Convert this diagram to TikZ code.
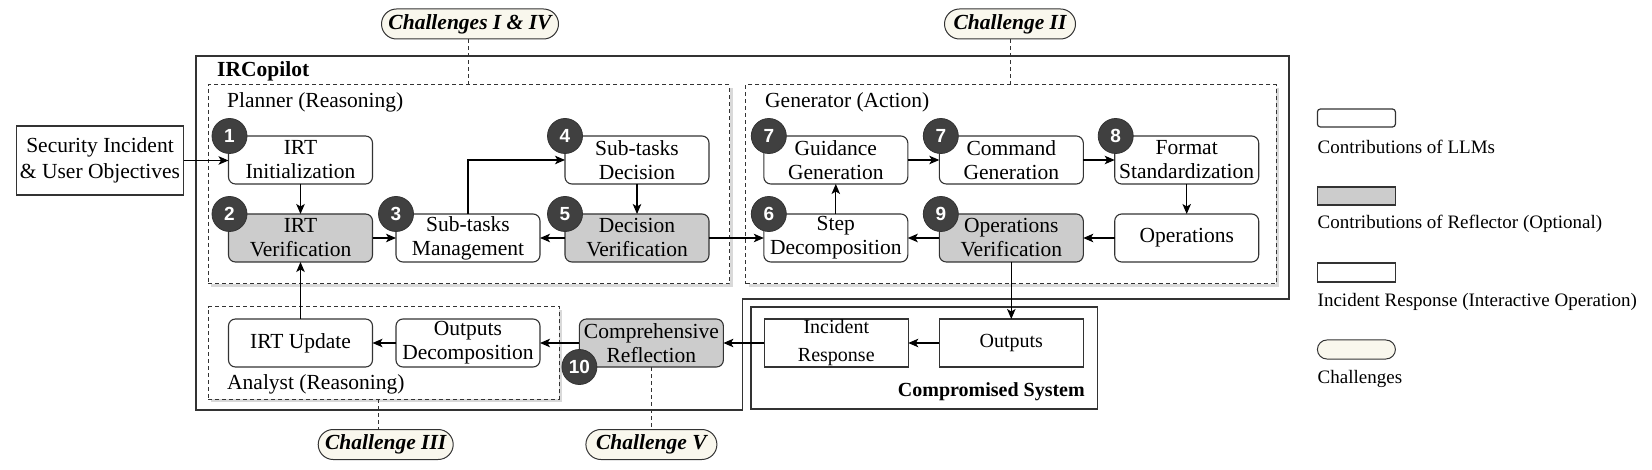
\documentclass[tikz,border=0pt]{standalone}
\usepackage{fontspec}
\setmainfont{Liberation Serif}
\newfontfamily\numfont{Liberation Sans}
\usetikzlibrary{arrows.meta,shadows}
\definecolor{bc}{HTML}{333333}
\definecolor{grayf}{HTML}{CCCCCC}
\definecolor{cream}{HTML}{F9F7ED}
\definecolor{numc}{HTML}{404040}
\begin{document}
\begin{tikzpicture}[x=1pt,y=-1pt,
  box/.style={draw=bc,line width=1.1pt,rounded corners=7pt,minimum width=144pt,minimum height=48pt,align=center,inner sep=0pt,outer sep=0pt,font={\fontsize{21.5}{24}\selectfont},fill=white},
  gbox/.style={box,fill=grayf},
  sbox/.style={draw=bc,line width=1.1pt,minimum width=144pt,minimum height=48pt,align=center,inner sep=0pt,outer sep=0pt,font={\fontsize{20}{28}\selectfont},fill=white},
  grp/.style={draw=bc,dash pattern=on 4pt off 3pt,line width=1pt,fill=white,inner sep=0pt,outer sep=0pt,drop shadow={shadow xshift=3pt,shadow yshift=-3pt,opacity=0.15,fill=black}},
  num/.style={circle,fill=numc,draw=bc,line width=0.8pt,minimum size=35pt,inner sep=0pt,text=white,font={\numfont\bfseries\fontsize{19}{19}\selectfont}},
  pill/.style={draw=bc,line width=1pt,fill=cream,rounded corners=15pt,minimum height=30pt,inner sep=0pt,font={\bfseries\itshape\fontsize{21.5}{24}\selectfont}},
  lbl/.style={inner sep=0pt,anchor=west,font={\fontsize{21.5}{24}\selectfont}},
  leg/.style={inner sep=0pt,anchor=west,font={\fontsize{19}{22}\selectfont}},
  arr/.style={-{Stealth[length=10pt,width=8.5pt,inset=2.5pt]},line width=1.1pt,draw=black},
  dline/.style={draw=bc,line width=1pt,dash pattern=on 4pt off 3pt}
]
\useasboundingbox (0,0) rectangle (1652,470);

% outer IRCopilot frame
\draw[bc,line width=1.3pt] (196,56) -- (1289,56) -- (1289,299) -- (742.5,299) -- (742.5,410) -- (196,410) -- cycle;
\node[inner sep=0pt,anchor=west,font={\bfseries\fontsize{21.5}{24}\selectfont}] (ircl) at (217,71) {IRCopilot};

% groups
\node[grp,minimum width=521.6pt,minimum height=199pt] (planner) at (468.8,184.5) {};
\node[grp,minimum width=530.3pt,minimum height=199pt] (generator) at (1010.9,184.5) {};
\node[grp,minimum width=351.3pt,minimum height=92pt] (analyst) at (383.7,353) {};
\node[draw=bc,line width=1.2pt,fill=white,inner sep=0pt,outer sep=0pt,minimum width=346.5pt,minimum height=102pt] (cs) at (924.3,358) {};

\node[lbl] (plbl) at (227,102) {Planner (Reasoning)};
\node[lbl] (glbl) at (765,102) {Generator (Action)};
\node[lbl] (albl) at (227,384) {Analyst (Reasoning)};
\node[inner sep=0pt,anchor=east,font={\bfseries\fontsize{20}{22}\selectfont}] (cslbl) at (1085,392) {Compromised System};

% input
\node[draw=bc,line width=1.2pt,minimum width=167pt,minimum height=69pt,inner sep=0pt,align=center,font={\fontsize{21.5}{26}\selectfont}] (sec) at (100,160.5) {Security Incident\\\& User Objectives};

% row 1
\node[box] (init) at (300.5,160) {IRT\\Initialization};
\node[box] (std) at (637,160) {Sub-tasks\\Decision};
\node[box] (gg) at (835.8,160) {Guidance\\Generation};
\node[box] (cg) at (1011.3,160) {Command\\Generation};
\node[box] (fs) at (1186.7,160) {Format\\Standardization};

% row 2
\node[gbox] (irtv) at (300.5,238) {IRT\\Verification};
\node[box] (stm) at (468,238) {Sub-tasks\\Management};
\node[gbox] (dv) at (637,238) {Decision\\Verification};
\node[box] (sd) at (835.8,238) {Step\\Decomposition};
\node[gbox] (ov) at (1011.3,238) {Operations\\Verification};
\node[box] (ops) at (1186.7,238) {Operations};

% row 3
\node[box] (upd) at (300.5,343) {IRT Update};
\node[box] (od) at (468,343) {Outputs\\Decomposition};
\node[gbox] (cr) at (651.4,343) {Comprehensive\\Reflection};
\node[sbox] (ir) at (836.3,343) {Incident\\Response};
\node[sbox] (out) at (1011.3,343) {Outputs};

% challenges
\node[pill,minimum width=177pt] (c14) at (470,24) {Challenges I \& IV};
\node[pill,minimum width=131pt] (c2) at (1010,24) {Challenge II};
\node[pill,minimum width=135pt] (c3) at (385.7,444.5) {Challenge III};
\node[pill,minimum width=131pt] (c5) at (651.4,444.5) {Challenge V};

% dashed challenge connectors
\draw[dline] ([xshift=-2pt]c14.south) -- ([xshift=-2pt]c14.south |- planner.north);
\draw[dline] (c2.south) -- (c2.south |- generator.north);
\draw[dline] ([xshift=-7.7pt]c3.north |- analyst.south) -- ([xshift=-7.7pt]c3.north);
\draw[dline] (cr.south) -- (c5.north);

% arrows
\draw[arr] (sec.east) -- (sec.east -| init.west);
\draw[arr] (init) -- (irtv);
\draw[arr] (irtv) -- (stm);
\draw[arr] (stm.north) |- (std.west);
\draw[arr] (std) -- (dv);
\draw[arr] (dv) -- (stm);
\draw[arr] (dv) -- (sd);
\draw[arr] (sd) -- (gg);
\draw[arr] (gg) -- (cg);
\draw[arr] (cg) -- (fs);
\draw[arr] (fs) -- (ops);
\draw[arr] (ops) -- (ov);
\draw[arr] (ov) -- (sd);
\draw[arr] (ov) -- (out);
\draw[arr] (out) -- (ir);
\draw[arr] (ir) -- (cr);
\draw[arr] (cr) -- (od);
\draw[arr] (od) -- (upd);
\draw[arr] (upd) -- (irtv);

% number badges
\node[num] (n1) at ([xshift=1pt]init.north west) {1};
\node[num] (n2) at ([xshift=1pt]irtv.north west) {2};
\node[num] (n3) at (stm.north west) {3};
\node[num] (n4) at (std.north west) {4};
\node[num] (n5) at (dv.north west) {5};
\node[num] (n6) at ([xshift=5pt]sd.north west) {6};
\node[num] (n7a) at ([xshift=5pt]gg.north west) {7};
\node[num] (n7b) at ([xshift=1.5pt]cg.north west) {7};
\node[num] (n8) at ([xshift=1pt]fs.north west) {8};
\node[num] (n9) at ([xshift=1.5pt]ov.north west) {9};
\node[num] (n10) at (cr.south west) {10};

% legend
\node[draw=bc,line width=1.2pt,rounded corners=3pt,minimum width=78pt,minimum height=18pt,inner sep=0pt] (lg1) at (1356.4,118) {};
\node[leg] (lt1) at (1317.5,147) {Contributions of LLMs};
\node[draw=bc,line width=1.2pt,fill=grayf,minimum width=78pt,minimum height=18pt,inner sep=0pt] (lg2) at (1356.4,196) {};
\node[leg] (lt2) at (1317.5,224) {Contributions of Reflector (Optional)};
\node[draw=bc,line width=1.2pt,minimum width=78pt,minimum height=19pt,inner sep=0pt] (lg3) at (1356.4,272.5) {};
\node[leg] (lt3) at (1317.5,302) {Incident Response (Interactive Operation)};
\node[draw=bc,line width=1pt,fill=cream,rounded corners=9.5pt,minimum width=78pt,minimum height=19pt,inner sep=0pt] (lg4) at (1356.4,349.5) {};
\node[leg] (lt4) at (1317.5,379) {Challenges};
\end{tikzpicture}
\end{document}
